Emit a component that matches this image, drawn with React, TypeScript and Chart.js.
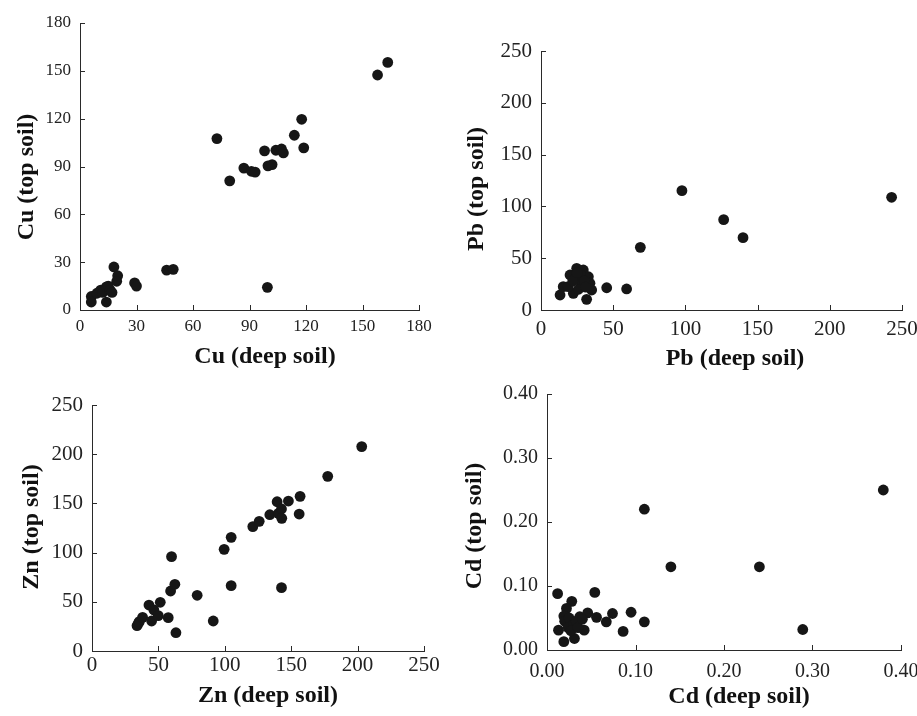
import React, { useEffect, useRef } from "react";
import { Chart, registerables } from "chart.js";
Chart.register(...registerables);

// ---- Data ----
const cuDeep = [6, 6, 14, 9, 11, 12, 14, 15, 16, 17, 18, 20, 19.5, 29, 30, 46, 49.5, 99.5, 79.5, 87, 91, 93, 98, 99.8, 102, 104, 107, 108, 113.8, 117.7, 118.8, 72.7, 158, 163.4];
const cuTop = [8.5, 5, 5, 10.5, 12.5, 11, 14.5, 15, 12.5, 11, 27, 21.5, 18, 17, 15, 25, 25.5, 14.2, 81, 89, 87, 86.5, 99.8, 90.4, 91.2, 100.2, 101, 98.5, 109.6, 119.6, 101.7, 107.5, 147.4, 155.3];

const pbDeep = [13.2, 15.4, 20.1, 24.7, 29.3, 32.8, 33.9, 35.1, 31.6, 22.4, 18.9, 24, 27, 28, 26, 30, 22, 25, 31, 45.5, 59.3, 68.8, 97.6, 126.5, 139.9, 242.8];
const pbTop = [14.5, 22.5, 33.8, 40.2, 38.6, 32.1, 25.8, 19.3, 10.3, 16.1, 22.5, 30, 35, 25, 20, 28, 28, 36, 22, 21.5, 20.3, 60.5, 115.2, 87.2, 69.8, 108.8];

const znDeep = [33.9, 34.9, 35.6, 38.1, 42.9, 44.9, 46.6, 49.9, 51.4, 57.4, 59.2, 62.4, 59.9, 63.2, 79.2, 91.3, 99.5, 104.8, 104.8, 121.1, 125.9, 133.9, 139.4, 140.4, 142.7, 142.9, 142.7, 147.9, 156, 156.7, 177.5, 203.1];
const znTop = [25.7, 28.1, 29.8, 34.2, 46.7, 30.5, 41.7, 35.9, 49.5, 33.9, 61, 67.8, 95.9, 18.6, 56.6, 30.5, 103.3, 115.5, 66.4, 126.4, 131.8, 138.5, 151.7, 139.9, 144.3, 134.8, 64.4, 152.4, 139.2, 157.2, 177.5, 207.7];

const cdDeep = [0.012, 0.028, 0.022, 0.019, 0.013, 0.019, 0.031, 0.042, 0.037, 0.046, 0.056, 0.067, 0.074, 0.086, 0.095, 0.11, 0.054, 0.02, 0.025, 0.024, 0.03, 0.033, 0.027, 0.035, 0.04, 0.11, 0.14, 0.24, 0.289, 0.38];
const cdTop = [0.088, 0.076, 0.065, 0.053, 0.031, 0.013, 0.018, 0.031, 0.052, 0.058, 0.051, 0.044, 0.057, 0.029, 0.059, 0.044, 0.09, 0.045, 0.05, 0.035, 0.04, 0.045, 0.03, 0.035, 0.048, 0.22, 0.13, 0.13, 0.032, 0.25];

const cuTicks = [0, 30, 60, 90, 120, 150, 180];
const pbTicks = [0, 50, 100, 150, 200, 250];
const znTicks = [0, 50, 100, 150, 200, 250];
const cdTicks = [0, 0.1, 0.2, 0.3, 0.4];
const cdTickLabels = ["0.00", "0.10", "0.20", "0.30", "0.40"];

const INK = "#161616";
const AXIS = "#2a2a2a";
const FONT = "'Liberation Serif', 'Times New Roman', serif";

type Panel = {
  box: { x: number; y: number; w: number; h: number };
  area: { l: number; t: number; r: number; b: number };
  tickSize: number;
  xPad: number;
  xs: number[];
  ys: number[];
  ticks: number[];
  labels: string[];
  xTitle: { text: string; cx: number; by: number };
  yTitle: { text: string; bx: number; cy: number };
};

const panels: Panel[] = [
  {
    box: { x: 0, y: 0, w: 458, h: 372 },
    area: { l: 80, t: 23, r: 419, b: 310 },
    tickSize: 17, xPad: 6,
    xs: cuDeep, ys: cuTop, ticks: cuTicks, labels: cuTicks.map(String),
    xTitle: { text: "Cu (deep soil)", cx: 265, by: 363 },
    yTitle: { text: "Cu (top soil)", bx: 33, cy: 177 },
  },
  {
    box: { x: 458, y: 0, w: 459, h: 372 },
    area: { l: 541, t: 51, r: 902, b: 310 },
    tickSize: 21, xPad: 7,
    xs: pbDeep, ys: pbTop, ticks: pbTicks, labels: pbTicks.map(String),
    xTitle: { text: "Pb (deep soil)", cx: 735, by: 365 },
    yTitle: { text: "Pb (top soil)", bx: 483, cy: 189 },
  },
  {
    box: { x: 0, y: 372, w: 458, h: 344 },
    area: { l: 92, t: 405, r: 424, b: 651 },
    tickSize: 21, xPad: 2,
    xs: znDeep, ys: znTop, ticks: znTicks, labels: znTicks.map(String),
    xTitle: { text: "Zn (deep soil)", cx: 268, by: 702 },
    yTitle: { text: "Zn (top soil)", bx: 38, cy: 527 },
  },
  {
    box: { x: 458, y: 372, w: 459, h: 344 },
    area: { l: 547, t: 394, r: 901, b: 650 },
    tickSize: 20, xPad: 10,
    xs: cdDeep, ys: cdTop, ticks: cdTicks, labels: cdTickLabels,
    xTitle: { text: "Cd (deep soil)", cx: 739, by: 703 },
    yTitle: { text: "Cd (top soil)", bx: 481, cy: 526 },
  },
];

function makeDecor(p: Panel) {
  return {
    id: "decor",
    afterDraw(chart: any) {
      const ctx = chart.ctx as CanvasRenderingContext2D;
      const xs = chart.scales.x;
      const ys = chart.scales.y;
      const { left, bottom } = chart.chartArea;
      ctx.save();
      ctx.strokeStyle = AXIS;
      ctx.lineWidth = 1;
      ctx.beginPath();
      for (const t of xs.ticks) {
        const px = Math.round(xs.getPixelForValue(t.value)) + 0.5;
        ctx.moveTo(px, bottom);
        ctx.lineTo(px, bottom - 5);
      }
      for (const t of ys.ticks) {
        const py = Math.round(ys.getPixelForValue(t.value)) + 0.5;
        ctx.moveTo(left, py);
        ctx.lineTo(left + 5, py);
      }
      ctx.stroke();
      ctx.fillStyle = "#111";
      ctx.font = `bold 24px ${FONT}`;
      ctx.textAlign = "center";
      ctx.textBaseline = "alphabetic";
      ctx.fillText(p.xTitle.text, p.xTitle.cx - p.box.x, p.xTitle.by - p.box.y);
      ctx.translate(p.yTitle.bx - p.box.x, p.yTitle.cy - p.box.y);
      ctx.rotate(-Math.PI / 2);
      ctx.fillText(p.yTitle.text, 0, 0);
      ctx.restore();
    },
  };
}

function PanelChart({ p }: { p: Panel }) {
  const ref = useRef<HTMLCanvasElement>(null);
  useEffect(() => {
    if (!ref.current) return;
    const min = p.ticks[0];
    const max = p.ticks[p.ticks.length - 1];
    const yWidth = p.area.l - p.box.x;
    const xHeight = p.box.y + p.box.h - p.area.b;
    const setTicks = (s: any) => {
      s.ticks = p.ticks.map((v) => ({ value: v }));
    };
    const fmt = (v: any) => {
      const i = p.ticks.findIndex((t) => Math.abs(t - Number(v)) < 1e-9);
      return i >= 0 ? p.labels[i] : "";
    };
    const common = {
      type: "linear" as const,
      min,
      max,
      grid: { display: false, drawTicks: false },
      border: { display: true, color: AXIS, width: 1 },
      afterBuildTicks: setTicks,
    };
    const chart = new Chart(ref.current, {
      type: "scatter",
      data: {
        datasets: [
          {
            data: p.xs.map((x, i) => ({ x, y: p.ys[i] })),
            backgroundColor: INK,
            borderWidth: 0,
            pointRadius: 5.4,
            pointHoverRadius: 5.4,
            clip: false as any,
          },
        ],
      },
      options: {
        responsive: false,
        animation: false,
        devicePixelRatio: 1,
        layout: {
          autoPadding: false,
          padding: {
            left: 0,
            top: p.area.t - p.box.y,
            right: p.box.x + p.box.w - p.area.r,
            bottom: 0,
          },
        },
        plugins: { legend: { display: false }, tooltip: { enabled: false } },
        scales: {
          x: {
            ...common,
            position: "bottom",
            ticks: {
              color: "#222",
              font: { family: FONT, size: p.tickSize },
              padding: p.xPad,
              maxRotation: 0,
              autoSkip: false,
              callback: fmt,
            },
            afterFit: (s: any) => {
              s.height = xHeight;
              s.paddingLeft = 0;
              s.paddingRight = 0;
            },
          },
          y: {
            ...common,
            position: "left",
            ticks: {
              color: "#222",
              font: { family: FONT, size: p.tickSize },
              padding: 9,
              autoSkip: false,
              callback: fmt,
            },
            afterFit: (s: any) => {
              s.width = yWidth;
              s.paddingTop = 0;
              s.paddingBottom = 0;
            },
          },
        },
      } as any,
      plugins: [makeDecor(p)],
    });
    return () => chart.destroy();
  }, [p]);
  return (
    <canvas
      ref={ref}
      width={p.box.w}
      height={p.box.h}
      style={{
        position: "absolute",
        left: p.box.x,
        top: p.box.y,
        width: p.box.w,
        height: p.box.h,
      }}
    />
  );
}

export default function App() {
  return (
    <div
      style={{
        position: "absolute",
        left: 0,
        top: 0,
        width: 917,
        height: 716,
        background: "#fff",
        overflow: "hidden",
      }}
    >
      {panels.map((p, i) => (
        <PanelChart key={i} p={p} />
      ))}
    </div>
  );
}
